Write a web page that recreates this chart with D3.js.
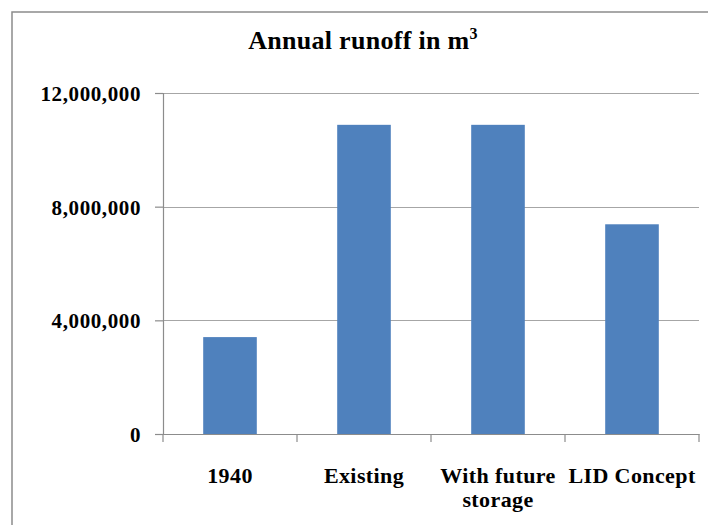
<!DOCTYPE html>
<html><head><meta charset="utf-8">
<script src="https://cdn.jsdelivr.net/npm/d3@7/dist/d3.min.js"></script>
<style>body{margin:0;background:#fff}svg{display:block}</style>
</head><body><svg id="c" width="708" height="525"></svg>
<script>
const categories = ["1940", "Existing", "With future|storage", "LID Concept"];
const runoff = [3410000, 10880000, 10880000, 7380000];
const yTicks = [0, 4000000, 8000000, 12000000];
const title = "Annual runoff in m";
const titleSup = "3";

const svg = d3.select("#c");
const W = 708, H = 525;
const m = {left: 163, right: 9, top: 93, bottom: 91};
const font = "'Liberation Serif','Times New Roman',serif";

// outer frame
svg.append("rect").attr("x", 12).attr("y", 12).attr("width", 720).attr("height", 540)
  .attr("fill", "#fff").attr("stroke", "#8c8c8c").attr("stroke-width", 1.5);

const x = d3.scaleBand().domain(categories).range([m.left, W - m.right]).paddingInner(0.6).paddingOuter(0.3);
const y = d3.scaleLinear().domain([0, 12000000]).range([H - m.bottom, m.top]);

// gridlines
svg.append("g").selectAll("line").data(yTicks.filter(d => d > 0)).join("line")
  .attr("x1", m.left).attr("x2", W - m.right)
  .attr("y1", d => Math.round(y(d)) + 0.5).attr("y2", d => Math.round(y(d)) + 0.5)
  .attr("stroke", "#a6a6a6").attr("stroke-width", 1.2);

// bars
svg.append("g").selectAll("rect").data(runoff).join("rect")
  .attr("x", (d, i) => x(categories[i])).attr("width", x.bandwidth())
  .attr("y", d => y(d)).attr("height", d => y(0) - y(d))
  .attr("fill", "#4f81bd");

// y axis
const yAxis = svg.append("g").attr("transform", `translate(${m.left},0)`)
  .call(d3.axisLeft(y).tickValues(yTicks).tickSize(8).tickPadding(14).tickFormat(d3.format(",")));
yAxis.select(".domain").attr("stroke", "#8c8c8c").attr("stroke-width", 1.2);
yAxis.selectAll(".tick line").attr("stroke", "#8c8c8c").attr("stroke-width", 1.2);
yAxis.selectAll(".tick text").attr("font-family", font).attr("font-weight", "bold")
  .attr("font-size", 21).attr("fill", "#000").attr("letter-spacing", "0.6px").attr("dy", "0.36em");

// x axis
const xAxis = svg.append("g").attr("transform", `translate(0,${y(0)})`)
  .call(d3.axisBottom(x).tickSize(0).tickFormat(""));
xAxis.select(".domain").attr("stroke", "#8c8c8c").attr("stroke-width", 1.2);
const bounds = d3.range(categories.length + 1).map(i => m.left + i * (W - m.right - m.left) / categories.length);
xAxis.selectAll("line.bt").data(bounds).join("line").attr("class", "bt")
  .attr("x1", d => d).attr("x2", d => d).attr("y1", 0).attr("y2", 8)
  .attr("stroke", "#8c8c8c").attr("stroke-width", 1.2);

const labels = svg.append("g");
categories.forEach((c, i) => {
  const cx = x(c) + x.bandwidth() / 2;
  const t = labels.append("text").attr("text-anchor", "middle")
    .attr("font-family", font).attr("font-weight", "bold").attr("font-size", 22)
    .attr("letter-spacing", "0.4px")
    .attr("transform", `translate(${cx},483)`);
  c.split("|").forEach((part, j) => {
    t.append("tspan").attr("x", 0).attr("y", j * 24).text(part);
  });
});

// title
const tt = svg.append("text").attr("text-anchor", "middle")
  .attr("font-family", font).attr("font-weight", "bold").attr("font-size", 26)
  .attr("letter-spacing", "0.3px")
  .attr("x", 363).attr("y", 49).attr("fill", "#000");
tt.append("tspan").text(title);
tt.append("tspan").attr("font-size", 16).attr("dy", -10).text(titleSup);
</script></body></html>
